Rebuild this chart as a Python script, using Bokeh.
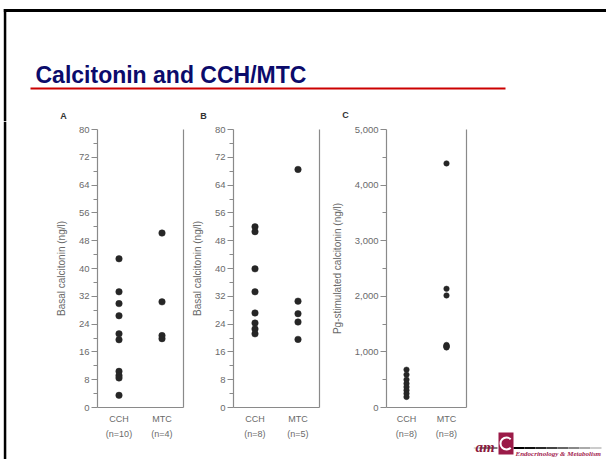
from bokeh.plotting import figure
from bokeh.layouts import row, column
from bokeh.models import Plot, Range1d, FactorRange, FixedTicker, LinearAxis, NumeralTickFormatter
from bokeh.core.properties import value
from bokeh.embed import file_html
from bokeh.resources import INLINE

# ---------------- data ----------------
CATS = ["CCH", "MTC"]
A_CCH = [42.8, 33.3, 29.9, 26.4, 21.2, 19.5, 10.4, 9.2, 8.5, 3.5]
A_MTC = [50.2, 30.4, 20.7, 19.8]
B_CCH = [52.0, 50.6, 39.9, 33.3, 27.2, 24.3, 22.6, 21.2]
B_MTC = [68.5, 30.6, 27.0, 24.6, 19.6]
C_CCH = [680, 590, 500, 430, 370, 310, 250, 190]
C_MTC = [4390, 2135, 2015, 1125, 1110, 1100, 1090, 1080]

AB_TICKS = [0, 8, 16, 24, 32, 40, 48, 56, 64, 72, 80]
AB_MINOR = [4, 12, 20, 28, 36, 44, 52, 60, 68, 76]
C_TICKS = [0, 1000, 2000, 3000, 4000, 5000]
C_MINOR = [500, 1500, 2500, 3500, 4500]

TITLE = "Calcitonin and CCH/MTC"
PANEL_LETTERS = ["A", "B", "C"]
YLABEL_AB = "Basal calcitonin (ng/l)"
YLABEL_C = "Pg-stimulated calcitonin (ng/l)"

FONT = "Liberation Sans"
AXIS_COL = "#8a8a8a"
LABEL_COL = "#6a6a6a"
DOT_COL = "#262626"
W = 606
TOP_H = 121
ROW_H = 338
HAS_FRAME_ALIGN = "frame_align" in Plot.properties()


def panel(width, mb_left, mb_right, series, ymax, ticks, minor, ylabel, size, fmt=None):
    labels = [f"{c}\n(n={len(v)})" for c, v in zip(CATS, series)]
    p = figure(width=width, height=ROW_H, x_range=FactorRange(*labels, range_padding=0),
               y_range=Range1d(0, ymax), output_backend="svg", toolbar_location=None,
               min_border_left=mb_left, min_border_right=mb_right, min_border_top=8,
               min_border_bottom=ROW_H - 286, outline_line_color=None,
               background_fill_color="white", border_fill_color="white")
    for lab, vals in zip(labels, series):
        p.scatter(x=[lab] * len(vals), y=vals, size=size, fill_color=DOT_COL,
                  line_color=DOT_COL, line_width=0.5)
    p.xgrid.visible = False
    p.ygrid.visible = False

    xa = p.xaxis[0]
    xa.axis_line_color = AXIS_COL
    xa.axis_line_width = 1.2
    xa.major_tick_line_color = None
    xa.minor_tick_line_color = None
    xa.major_tick_out = 0
    xa.major_tick_in = 0
    xa.major_label_standoff = 6
    xa.major_label_text_font = FONT
    xa.major_label_text_font_size = "9px"
    xa.major_label_text_color = LABEL_COL
    xa.major_label_text_line_height = 1.55

    ya = p.yaxis[0]
    ya.ticker = FixedTicker(ticks=ticks, minor_ticks=minor)
    ya.axis_line_color = AXIS_COL
    ya.axis_line_width = 1.2
    ya.major_tick_line_color = AXIS_COL
    ya.minor_tick_line_color = AXIS_COL
    ya.major_tick_in = 0
    ya.major_tick_out = 6
    ya.minor_tick_in = 0
    ya.minor_tick_out = 4
    ya.major_label_standoff = 2
    ya.major_label_text_font = FONT
    ya.major_label_text_font_size = "9.5px"
    ya.major_label_text_color = LABEL_COL
    if fmt is not None:
        ya.formatter = NumeralTickFormatter(format=fmt)
    ya.axis_label = ylabel
    ya.axis_label_text_font = FONT
    ya.axis_label_text_font_size = "10px"
    ya.axis_label_text_font_style = "normal"
    ya.axis_label_text_color = LABEL_COL
    ya.axis_label_standoff = 9

    ra = LinearAxis(ticker=FixedTicker(ticks=[]), axis_line_color=AXIS_COL, axis_line_width=1.2,
                    major_tick_line_color=None, minor_tick_line_color=None,
                    major_label_text_font_size="0px")
    p.add_layout(ra, "right")
    return p


def blank(width, height, x_end, y_end):
    f = figure(width=width, height=height, x_range=Range1d(0, x_end), y_range=Range1d(y_end, 0),
               output_backend="svg", toolbar_location=None, min_border=0,
               x_axis_type=None, y_axis_type=None, outline_line_color=None,
               background_fill_color="white", border_fill_color="white")
    f.xgrid.visible = False
    f.ygrid.visible = False
    if HAS_FRAME_ALIGN:
        f.frame_align = False
    return f


# ---------------- top band: frame, title, rule, panel letters ----------------
top = blank(W, TOP_H, W, TOP_H)
top.quad(left=[3.3], right=[W], top=[8.4], bottom=[11.6], fill_color="black", line_color=None)
top.quad(left=[3.3], right=[5.8], top=[8.4], bottom=[TOP_H], fill_color="black", line_color=None)
top.quad(left=[30], right=[505], top=[87], bottom=[89], fill_color="#cc0000", line_color=None)
top.text(x=[35], y=[74], text=[TITLE], text_font=value(FONT), text_font_style="bold",
         text_font_size="23px", text_color="#0b0b6b", text_baseline="alphabetic")
top.text(x=[63, 203, 345], y=[115, 115, 114], text=PANEL_LETTERS, text_font=value(FONT),
         text_font_style="bold", text_font_size="9px", text_color="#333333",
         text_align="center", text_baseline="middle")

# ---------------- left frame bar in panel row ----------------
bar = blank(7, ROW_H, 7, ROW_H)
bar.quad(left=[3.3], right=[5.8], top=[0], bottom=[ROW_H], fill_color="black", line_color=None)

pa = panel(180, 90, 4, [A_CCH, A_MTC], 80, AB_TICKS, AB_MINOR, YLABEL_AB, 6.5)
pb = panel(141, 46, 9, [B_CCH, B_MTC], 80, AB_TICKS, AB_MINOR, YLABEL_AB, 6.5)
pc = panel(145, 55, 7, [C_CCH, C_MTC], 5000, C_TICKS, C_MINOR, YLABEL_C, 5.5, fmt="0,0")

# ---------------- logo ----------------
LW = W - 473
logo = blank(LW, ROW_H, LW, ROW_H)
shades = ["#000000", "#111111", "#2a2a2a", "#444444", "#666666", "#888888", "#aaaaaa", "#cccccc"]
xs = [40 + i * 11 for i in range(len(shades))]
logo.segment(x0=xs, y0=[326.5] * len(xs), x1=[x + 11 for x in xs], y1=[326.5] * len(xs),
             line_color=shades, line_width=2)
logo.segment(x0=[0, 6], y0=[326.5, 326.5], x1=[6, 24], y1=[326.5, 326.5],
             line_color=["#cccccc", "#555555"], line_width=1.5)
logo.quad(left=[25], right=[40], top=[311], bottom=[333], fill_color="#9b1b48", line_color=None)
logo.arc(x=[33], y=[322], radius=6, radius_units="screen", start_angle=0.8, end_angle=5.48,
         line_color="white", line_width=2)
logo.text(x=[2], y=[325.5], text=["am"], text_font=value("Liberation Serif"),
          text_font_style="bold italic", text_font_size="15px", text_color="#8b1a3d",
          text_baseline="alphabetic")
logo.text(x=[42], y=[332.5], text=["Endocrinology & Metabolism"], text_font=value("Liberation Serif"),
          text_font_style="bold italic", text_font_size="7px", text_color="#a3234f",
          text_baseline="alphabetic")

layout = column(top, row(bar, pa, pb, pc, logo))
open("out.html", "w").write(file_html(layout, INLINE))
